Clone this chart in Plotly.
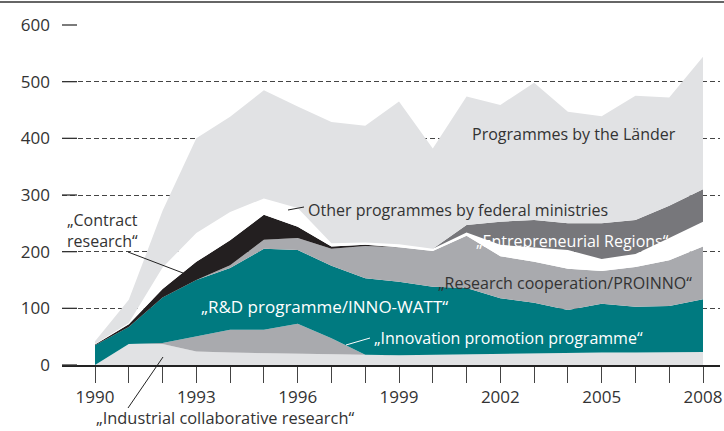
import plotly.graph_objects as go

years = list(range(1990, 2009))
industrial = [0, 37, 37, 24, 22, 21, 19, 18, 17, 17, 18, 19, 20, 20, 21, 22, 22, 23, 23]
innovation = [0, 0, 2, 26, 40, 41, 54, 29, 1, 0, 0, 0, 0, 0, 0, 0, 0, 0, 0]
rnd_innowatt = [35, 30, 80, 100, 109, 143, 130, 128, 135, 130, 120, 117, 98, 90, 76, 86, 81, 81, 93]
research_coop = [0, 0, 0, 0, 5, 16, 21, 30, 57, 61, 63, 92, 74, 72, 73, 58, 70, 81, 93]
contract = [1, 5, 15, 32, 44, 44, 20, 4, 2, 0, 0, 0, 0, 0, 0, 0, 0, 0, 0]
other_federal = [1, 2, 38, 51, 50, 29, 33, 6, 4, 5, 4, 6, 20, 25, 33, 21, 23, 39, 44]
entrepreneurial = [0, 0, 0, 0, 0, 0, 0, 0, 0, 0, 0, 13, 41, 49, 47, 63, 60, 57, 57]
laender = [5, 41, 100, 167, 168, 191, 179, 214, 206, 252, 177, 227, 206, 242, 197, 189, 219, 191, 234]

y_ticks = [0, 100, 200, 300, 400, 500, 600]
x_label_years = [1990, 1993, 1996, 1999, 2002, 2005, 2008]

LIGHT = "#e1e2e4"
MID = "#a9aaae"
TEAL = "#007a80"
BLACK = "#231f20"
DARK = "#77777b"
WHITE = "#ffffff"
TXT = "#333333"
FONT = "Open Sans"

layers = [
    ("Industrial collaborative research", industrial, LIGHT),
    ("Innovation promotion programme", innovation, MID),
    ("R&D programme/INNO-WATT", rnd_innowatt, TEAL),
    ("Research cooperation/PROINNO", research_coop, MID),
    ("Contract research", contract, BLACK),
    ("Other programmes by federal ministries", other_federal, WHITE),
    ("Entrepreneurial Regions", entrepreneurial, DARK),
    ("Programmes by the Länder", laender, LIGHT),
]

fig = go.Figure()
for name, vals, col in layers:
    fig.add_trace(go.Scatter(
        x=years, y=vals, name=name, stackgroup="one", mode="lines",
        line=dict(width=0, color=col), fillcolor=col, hoverinfo="skip",
        showlegend=False,
    ))

L, R, T, B = 62, 4, 25, 66
W, H = 724, 431
pw = W - L - R
ph = H - T - B
px_per_year = (703 - 95) / 18.0
x0 = 1990 - (95 - L) / px_per_year
x1 = 2008 + (W - R - 703) / px_per_year


def px(xp):
    return (xp - L) / pw


def py(yp):
    return (H - B - yp) / ph


ticktext = [str(y) if y in x_label_years else "" for y in years]

fig.update_layout(
    width=W, height=H,
    margin=dict(l=L, r=R, t=T, b=B, pad=0, autoexpand=False),
    paper_bgcolor="white", plot_bgcolor="white",
    font=dict(family=FONT, size=16, color=TXT),
    xaxis=dict(
        range=[x0, x1], tickvals=years, ticktext=ticktext,
        ticks="outside", ticklen=16, tickwidth=1, tickcolor="#444",
        showgrid=False, zeroline=False, showline=True, linecolor="#222",
        linewidth=1.5, tickfont=dict(size=17, color=TXT, family=FONT),
        fixedrange=True, automargin=False,
    ),
    yaxis=dict(
        range=[0, 600], tickvals=y_ticks, ticks="", showline=False,
        showgrid=True, gridcolor="#444", gridwidth=1, griddash="5px,3px",
        zeroline=False, tickfont=dict(size=17, color=TXT, family=FONT),
        ticklabelstandoff=11, fixedrange=True, automargin=False,
    ),
)

shapes = []
# solid short tick segments at left of each gridline
for v in y_ticks:
    yy = v / 600.0
    shapes.append(dict(type="line", xref="paper", yref="paper",
                       x0=0, x1=px(77), y0=yy, y1=yy,
                       line=dict(color="#333", width=1.3), layer="above"))
# top frame line
shapes.append(dict(type="line", xref="paper", yref="paper",
                   x0=-L / pw, x1=1 + R / pw, y0=py(2), y1=py(2),
                   line=dict(color="#666", width=2)))
# leader lines
leaders = [
    ((128, 252), (183, 273), "#222"),
    ((288, 210), (304, 207), "#222"),
    ((346, 345), (370, 338), "#ffffff"),
    ((128, 408), (163, 357), "#222"),
]
for (a, b, c) in leaders:
    shapes.append(dict(type="line", xref="paper", yref="paper",
                       x0=px(a[0]), y0=py(a[1]), x1=px(b[0]), y1=py(b[1]),
                       line=dict(color=c, width=1), layer="above"))
fig.update_layout(shapes=shapes)

labels = [
    ("„Contract<br>research“", 65, 230, TXT, 16),
    ("Other programmes by federal ministries", 306, 210, TXT, 16),
    ("Programmes by the Länder", 470, 134, TXT, 16),
    ("„Entrepreneurial Regions“", 474, 241, "#ffffff", 16),
    ("„Research cooperation/PROINNO“", 436, 283, TXT, 16),
    ("„R&D programme/INNO-WATT“", 199, 306, "#ffffff", 17),
    ("„Innovation promotion programme“", 372, 338, "#ffffff", 16),
    ("„Industrial collaborative research“", 94, 418, TXT, 16.4),
]
for text, xp, yp, col, fs in labels:
    fig.add_annotation(text=text, xref="paper", yref="paper",
                       x=px(xp), y=py(yp), xanchor="left", yanchor="middle",
                       showarrow=False, align="left",
                       font=dict(family=FONT, size=fs, color=col))

fig.write_html(
    "out.html",
    config={"displayModeBar": False, "staticPlot": True},
    post_script="document.body.style.margin='0px';document.body.style.padding='0px';",
)
